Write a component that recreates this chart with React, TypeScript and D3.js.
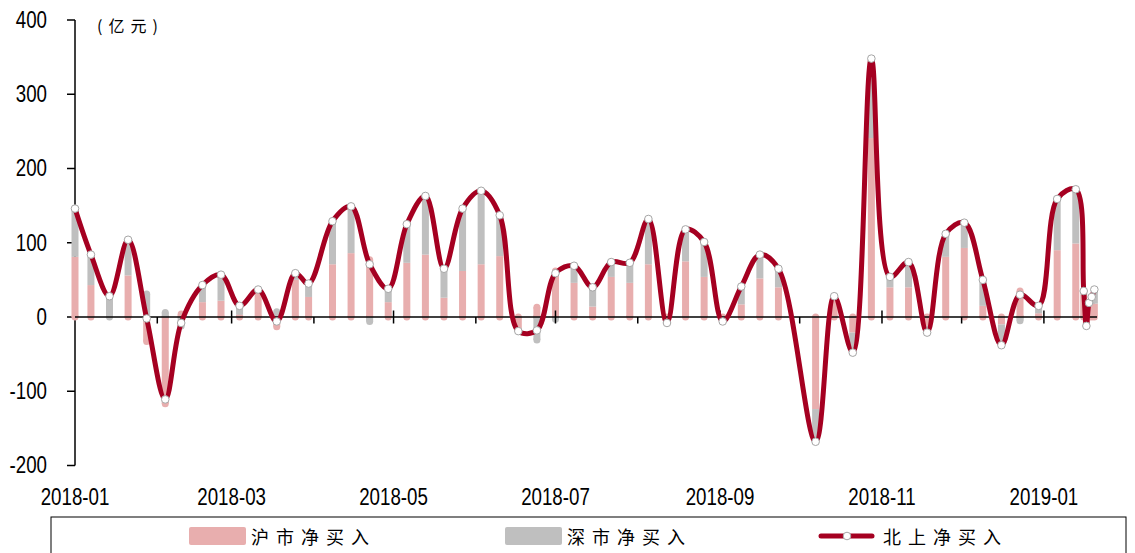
import React from "react";
import * as d3 from "d3";

const dates = [
  "2018-01-01","2018-01-07","2018-01-14","2018-01-21","2018-01-28","2018-02-04","2018-02-10","2018-02-18",
  "2018-02-25","2018-03-04","2018-03-11","2018-03-18","2018-03-25","2018-03-30","2018-04-08","2018-04-15",
  "2018-04-22","2018-04-29","2018-05-06","2018-05-13","2018-05-20","2018-05-27","2018-06-03","2018-06-10",
  "2018-06-17","2018-06-24","2018-07-01","2018-07-08","2018-07-15","2018-07-22","2018-07-29","2018-08-05",
  "2018-08-12","2018-08-19","2018-08-26","2018-09-02","2018-09-09","2018-09-16","2018-09-23","2018-10-07",
  "2018-10-14","2018-10-21","2018-10-28","2018-11-04","2018-11-11","2018-11-18","2018-11-25","2018-12-02",
  "2018-12-09","2018-12-16","2018-12-23","2018-12-30","2019-01-06","2019-01-13","2019-01-16","2019-01-17",
  "2019-01-18","2019-01-19","2019-01-20",
];
// 北上净买入
const northTotal = [
  146,84,28,104,-2,-111,-8,43,57,15,37,-6,59,45,129,149,
  71,38,125,163,65,146,170,137,-19,-18,59,69,40,74,73,132,
  -8,118,101,-6,41,84,65,-168,28,-48,348,54,74,-21,112,127,
  50,-38,30,15,159,172,35,-12,19,27,37,
];
// 沪市净买入
const shanghai = [
  81,43,0,56,-33,-117,4,20,22,3,35,-13,50,27,71,86,
  77,20,73,84,26,62,71,82,-17,13,62,46,14,54,46,71,
  -4,75,54,-2,17,52,40,-124,25,-21,241,40,40,-12,81,93,
  15,-10,35,5,90,99,30,-8,12,15,18,
];
// 深市净买入
const shenzhen = [
  65,41,28,48,31,6,-12,23,35,12,2,7,9,18,58,63,
  -6,18,52,79,39,84,99,55,-2,-31,-3,23,26,20,27,61,
  -4,43,47,-4,24,32,25,-44,3,-27,107,14,34,-9,31,34,
  35,-28,-5,10,69,73,5,-4,7,12,19,
];
const yTicks = [-200, -100, 0, 100, 200, 300, 400];
const xLabelMonths = ["2018-01","2018-03","2018-05","2018-07","2018-09","2018-11","2019-01"];
const legendLabels = ["沪市净买入", "深市净买入", "北上净买入"];

const PINK = "#E8AEAE";
const GRAY = "#BFBFBF";
const RED = "#A50021";
const NUM_FONT = "'Liberation Sans', Arial, sans-serif";
const CJK_FONT = "'Noto Sans CJK SC', sans-serif";

const parse = (s: string) => {
  const [y, m, d] = s.split("-").map(Number);
  return new Date(Date.UTC(y, m - 1, d || 1));
};

function NumText({ x, y, anchor, children }: { x: number; y: number; anchor: string; children: React.ReactNode }) {
  return (
    <text transform={`translate(${x},${y}) scale(0.78,1)`} textAnchor={anchor} dominantBaseline="central"
      fontFamily={NUM_FONT} fontSize={24} fill="#000">{children}</text>
  );
}

export default function App() {
  const W = 1135, H = 553;
  const x = d3.scaleUtc().domain([parse("2018-01-01"), parse("2019-01-21")]).range([75, 1097]);
  const y = d3.scaleLinear().domain([-200, 400]).range([465.5, 20]);
  const y0 = y(0);
  const barW = 7;
  const r = barW / 2;

  const monthTicks = d3.utcMonth.range(parse("2018-01-01"), parse("2019-01-02"));
  const majorSet = new Set(xLabelMonths);

  const bars: React.ReactNode[] = [];
  dates.forEach((ds, i) => {
    const cx = x(parse(ds));
    let pos = 0, neg = 0;
    let firstPos: string | null = null, lastPos: string | null = null;
    let firstNeg: string | null = null, lastNeg: string | null = null;
    const rects: React.ReactNode[] = [];
    [[shanghai[i], PINK], [shenzhen[i], GRAY]].forEach(([v, c]: any, k) => {
      if (v === 0) return;
      let a, b;
      if (v > 0) { a = pos; b = pos + v; pos = b; if (!firstPos) firstPos = c; lastPos = c; }
      else { a = neg; b = neg + v; neg = b; if (!firstNeg) firstNeg = c; lastNeg = c; }
      const ya = y(a), yb = y(b);
      rects.push(<rect key={`r${k}`} x={cx - r} y={Math.min(ya, yb)} width={barW} height={Math.abs(ya - yb)} fill={c} />);
    });
    const caps: React.ReactNode[] = [];
    if (firstPos) {
      caps.push(<circle key="p0" cx={cx} cy={y0} r={r} fill={firstPos} />);
      caps.push(<circle key="p1" cx={cx} cy={y(pos)} r={r} fill={lastPos!} />);
    }
    if (firstNeg) {
      caps.push(<circle key="n0" cx={cx} cy={y0} r={r} fill={firstNeg} />);
      caps.push(<circle key="n1" cx={cx} cy={y(neg)} r={r} fill={lastNeg!} />);
    }
    bars.push(<g key={i}>{caps}{rects}</g>);
  });

  const pts: [number, number][] = dates.map((ds, i) => [x(parse(ds)), y(northTotal[i])]);
  const lineGen = d3.line().curve(d3.curveCatmullRom.alpha(0.5));
  const linePath = lineGen(pts) || "";

  return (
    <svg width={W} height={H} style={{ position: "absolute", left: 0, top: 0, background: "#fff" }}>
      {/* y axis */}
      <line x1={75} x2={75} y1={20} y2={465.5} stroke="#000" strokeWidth={1.5} />
      {yTicks.map((t) => (
        <g key={t}>
          <line x1={67} x2={75} y1={y(t)} y2={y(t)} stroke="#000" strokeWidth={1.5} />
          <NumText x={47} y={y(t)} anchor="end">{t}</NumText>
        </g>
      ))}
      <text x={97} y={25} dominantBaseline="central" fontFamily={CJK_FONT} fontSize={16} letterSpacing={6} fill="#000">(亿元)</text>

      {bars}

      {/* x axis at zero */}
      <line x1={75} x2={1097} y1={y0} y2={y0} stroke="#000" strokeWidth={1.5} />
      {monthTicks.map((m) => {
        const key = d3.utcFormat("%Y-%m")(m);
        const major = majorSet.has(key);
        const tx = x(m);
        return (
          <g key={key}>
            {tx > 76 && <line x1={tx} x2={tx} y1={major ? y0 - 6.5 : y0} y2={y0 + 6.5} stroke="#000" strokeWidth={1.5} />}
            {major && <NumText x={tx} y={497} anchor="middle">{key}</NumText>}
          </g>
        );
      })}

      <path d={linePath} fill="none" stroke={RED} strokeWidth={5} strokeLinejoin="round" strokeLinecap="round" />
      {pts.map((p, i) => (
        <circle key={i} cx={p[0]} cy={p[1]} r={3.8} fill="#fff" stroke="#A6A6A6" strokeWidth={1} />
      ))}

      {/* legend */}
      <rect x={51} y={517} width={1075} height={45} fill="none" stroke="#000" strokeWidth={1} />
      <rect x={189} y={527} width={57} height={18} rx={2} fill={PINK} />
      <text x={251} y={536} dominantBaseline="central" fontFamily={CJK_FONT} fontSize={18} letterSpacing={7} fill="#000">{legendLabels[0]}</text>
      <rect x={505} y={527} width={57} height={18} rx={2} fill={GRAY} />
      <text x={567} y={536} dominantBaseline="central" fontFamily={CJK_FONT} fontSize={18} letterSpacing={7} fill="#000">{legendLabels[1]}</text>
      <line x1={821} x2={872} y1={536} y2={536} stroke={RED} strokeWidth={5} strokeLinecap="round" />
      <circle cx={847} cy={536} r={3.8} fill="#fff" stroke="#A6A6A6" strokeWidth={1} />
      <text x={883} y={536} dominantBaseline="central" fontFamily={CJK_FONT} fontSize={18} letterSpacing={7} fill="#000">{legendLabels[2]}</text>
    </svg>
  );
}
